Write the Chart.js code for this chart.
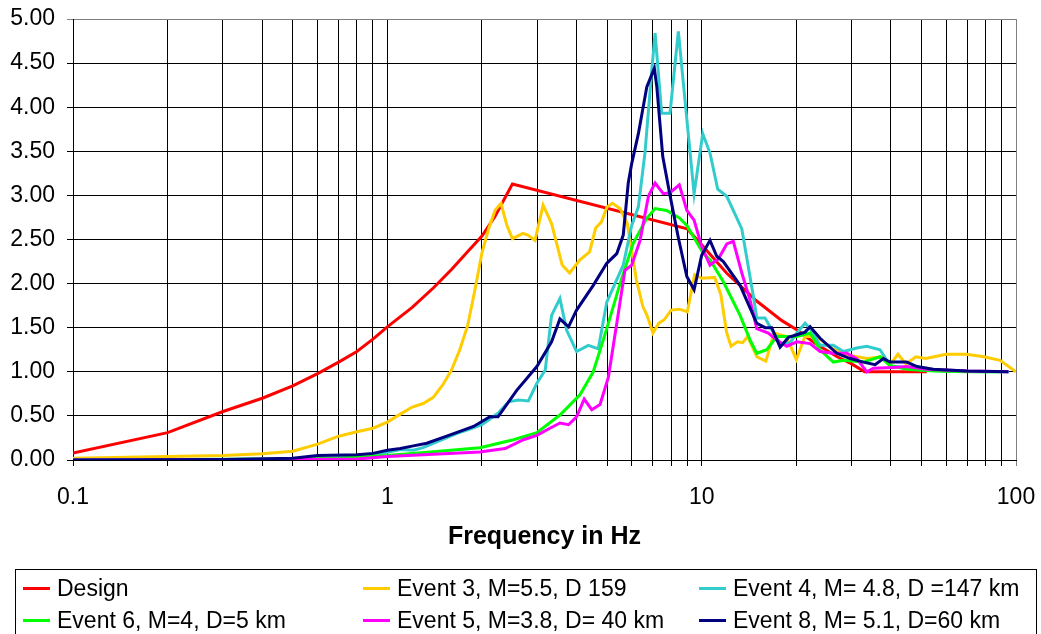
<!DOCTYPE html>
<html>
<head>
<meta charset="utf-8">
<script src="https://cdn.jsdelivr.net/npm/chart.js@4.4.1/dist/chart.umd.min.js"></script>
<style>
  body { margin: 0; background: #fff; font-family: "Liberation Sans", Arial, sans-serif; }
  #wrap { position: relative; width: 1041px; height: 634px; overflow: hidden; }
  #legend { position: absolute; left: 15px; top: 569px; width: 1022px; height: 90px;
            border: 1px solid #000; box-sizing: border-box; }
  .item { position: absolute; font-size: 23px; line-height: 26px; white-space: nowrap; color: #000; }
  .item i { display: inline-block; width: 27px; height: 3px; vertical-align: middle; margin-right: 7px; position: relative; top: -1px; }
</style>
</head>
<body>
<div id="wrap">
  <canvas id="chart" width="1041" height="634"></canvas>
  <div id="legend"></div>
</div>
<script>
// x axis: frequency in Hz (log), y axis: spectral amplification
const xTickLabels = ["0.1", "1", "10", "100"];

const seriesNames = [
  "Design",
  "Event 3, M=5.5, D 159",
  "Event 4, M= 4.8, D =147 km",
  "Event 6, M=4, D=5 km",
  "Event 5, M=3.8, D= 40 km",
  "Event 8, M= 5.1, D=60 km"
];
const seriesColors = ["#FF0000", "#FFCC00", "#33CCCC", "#00FF00", "#FF00FF", "#000080"];

const designFreq = [0.1, 0.2, 0.3, 0.4, 0.5, 0.6, 0.7, 0.8, 0.9, 1, 1.2, 1.4, 1.6, 1.8, 2, 2.2, 2.5,
  9, 10, 12, 15, 18, 20, 23, 27, 30, 33, 40, 52];
const designAmp = [0.08, 0.31, 0.55, 0.70, 0.84, 0.98, 1.11, 1.23, 1.37, 1.51, 1.73, 1.95, 2.16, 2.36, 2.54, 2.76, 3.13,
  2.62, 2.44, 2.12, 1.80, 1.58, 1.48, 1.32, 1.17, 1.09, 1.0, 1.0, 1.0];

const ev3Freq = [0.1, 0.2, 0.3, 0.4, 0.5, 0.6, 0.7, 0.8, 0.9, 1.0,
  1.1, 1.2, 1.3, 1.4, 1.5, 1.6, 1.7, 1.8, 1.9, 2.0, 2.1, 2.2, 2.3, 2.4, 2.5,
  2.7, 2.8, 2.95, 3.13, 3.33, 3.6, 3.8, 4.1, 4.4, 4.6, 4.8, 5.0, 5.2, 5.5, 5.8,
  6.2, 6.5, 6.7, 7.0, 7.3, 7.6, 8.0, 8.5, 9.0, 9.5, 10, 11, 11.5, 12, 12.4, 13, 13.5, 14, 15, 16,
  17, 17.7, 18.6, 20, 21.3, 23.2, 25.6, 28.2, 33.5, 37.7, 39.6, 42.1, 44.7, 48, 51.6, 60, 69.5, 79, 89, 100];
const ev3Amp = [0.02, 0.04, 0.05, 0.07, 0.10, 0.18, 0.27, 0.32, 0.36, 0.43,
  0.52, 0.60, 0.64, 0.71, 0.85, 1.02, 1.25, 1.52, 1.93, 2.35, 2.62, 2.83, 2.91, 2.66, 2.51,
  2.57, 2.55, 2.49, 2.89, 2.68, 2.21, 2.12, 2.27, 2.36, 2.63, 2.70, 2.87, 2.91, 2.85, 2.68,
  2.04, 1.74, 1.64, 1.44, 1.55, 1.59, 1.70, 1.71, 1.68, 2.10, 2.06, 2.07, 1.88, 1.45, 1.29, 1.34, 1.33, 1.40, 1.17, 1.12,
  1.44, 1.42, 1.40, 1.14, 1.40, 1.40, 1.28, 1.20, 1.15, 1.17, 1.07, 1.20, 1.09, 1.17, 1.15, 1.20, 1.20, 1.17, 1.13, 1.00];

const ev4Freq = [0.1, 0.3, 0.5, 0.6, 0.8, 0.95, 1.1, 1.21, 1.3, 1.45,
  1.66, 1.86, 2.0, 2.25, 2.43, 2.61, 2.81, 2.99, 3.18, 3.33,
  3.54, 3.72, 4.0, 4.36, 4.69, 4.99, 5.30, 5.63, 5.99, 6.29,
  6.60, 6.94, 7.11, 7.46, 7.93, 8.43, 8.85, 9.46, 10.08, 10.63,
  11.25, 12.02, 13.42, 14.61, 14.97, 15.91, 16.50, 17.76, 19.12, 20.08,
  21.33, 22.13, 23.81, 26.24, 28.25, 31.16, 33.53, 36.95, 39.77, 43.8, 50, 60, 80, 95];
const ev4Amp = [0, 0.005, 0.01, 0.02, 0.03, 0.07, 0.12, 0.11, 0.14, 0.21,
  0.30, 0.36, 0.40, 0.53, 0.66, 0.68, 0.67, 0.87, 1.02, 1.64,
  1.83, 1.47, 1.23, 1.30, 1.26, 1.79, 2.0, 2.21, 2.66, 2.87,
  3.48, 4.42, 4.84, 3.93, 3.93, 4.86, 4.08, 3.02, 3.70, 3.48,
  3.07, 2.99, 2.62, 1.85, 1.61, 1.61, 1.51, 1.32, 1.33, 1.44,
  1.55, 1.49, 1.30, 1.30, 1.23, 1.27, 1.29, 1.25, 1.07, 1.05, 1.02, 1.01, 1.0, 1.0];

const ev6Freq = [0.1, 0.5, 0.7, 1.0, 1.37, 1.97, 2.52, 2.99, 3.54, 4.10,
  4.52, 4.99, 5.50, 6.06, 6.69, 7.11, 7.74, 8.53, 8.97, 10.13,
  10.63, 11.72, 13.25, 14.26, 14.97, 16.11, 17.33, 18.2, 20.08, 22.13,
  23.81, 26.24, 28.25, 32.70, 36.95, 39.77, 45, 55, 70, 90];
const ev6Amp = [0, 0.01, 0.02, 0.05, 0.09, 0.14, 0.23, 0.31, 0.51, 0.74,
  1.0, 1.49, 2.0, 2.46, 2.74, 2.85, 2.83, 2.74, 2.66, 2.34,
  2.27, 2.02, 1.64, 1.36, 1.21, 1.25, 1.40, 1.40, 1.40, 1.44,
  1.25, 1.11, 1.13, 1.11, 1.17, 1.07, 1.03, 1.01, 1.0, 1.0];

const ev5Freq = [0.1, 0.5, 0.8, 1.0, 1.97, 2.37, 2.71, 2.99, 3.29, 3.54,
  3.77, 4.0, 4.23, 4.47, 4.75, 5.05, 5.37, 5.70, 5.99, 6.37,
  6.77, 7.11, 7.55, 7.93, 8.49, 8.97, 9.46, 10.0, 10.63, 11.30,
  12.02, 12.61, 13.42, 14.26, 14.97, 16.30, 17.33, 18.66, 20.08, 22.13,
  23.81, 26.24, 28.96, 31.16, 33.53, 35.19, 40.7, 44.9, 52.0, 69.7, 94.6];
const ev5Amp = [0, 0.005, 0.01, 0.04, 0.09, 0.13, 0.23, 0.28, 0.36, 0.42,
  0.40, 0.49, 0.69, 0.57, 0.63, 0.94, 1.55, 2.15, 2.21, 2.49,
  2.99, 3.14, 3.02, 3.03, 3.12, 2.83, 2.72, 2.42, 2.21, 2.28,
  2.45, 2.48, 2.12, 1.81, 1.49, 1.44, 1.36, 1.29, 1.34, 1.32,
  1.23, 1.21, 1.21, 1.15, 1.0, 1.04, 1.05, 1.06, 1.03, 1.01, 1.0];

const ev8Freq = [0.1, 0.3, 0.5, 0.6, 0.8, 0.9, 1.0, 1.1, 1.21, 1.335,
  1.545, 1.88, 2.12, 2.25, 2.58, 2.99, 3.33, 3.54, 3.77, 4.0,
  4.52, 4.99, 5.37, 5.63, 5.84, 5.99, 6.29, 6.69, 7.07, 7.20,
  7.52, 7.93, 8.43, 8.97, 9.46, 10.0, 10.63, 11.17, 11.72, 13.25,
  14.97, 15.91, 16.71, 17.76, 18.88, 20.08, 21.33, 22.13, 23.81, 26.91,
  29.67, 32.70, 35.63, 37.86, 39.77, 44.9, 48.4, 54.6, 69.7, 94.6];
const ev8Amp = [0, 0.005, 0.02, 0.05, 0.06, 0.075, 0.11, 0.13, 0.16, 0.19,
  0.27, 0.38, 0.49, 0.49, 0.79, 1.06, 1.34, 1.60, 1.51, 1.70,
  1.98, 2.23, 2.34, 2.55, 3.14, 3.36, 3.70, 4.23, 4.44, 4.23,
  3.44, 3.00, 2.52, 2.08, 1.93, 2.32, 2.49, 2.31, 2.25, 1.98,
  1.55, 1.50, 1.50, 1.28, 1.39, 1.42, 1.45, 1.51, 1.38, 1.21,
  1.15, 1.11, 1.08, 1.15, 1.11, 1.11, 1.06, 1.03, 1.01, 1.0];

const seriesFreq = [designFreq, ev3Freq, ev4Freq, ev6Freq, ev5Freq, ev8Freq];
const seriesAmp = [designAmp, ev3Amp, ev4Amp, ev6Amp, ev5Amp, ev8Amp];

// gridline positions 1..9 per decade
const gridFreqs = [];
[0.1, 1, 10].forEach(d => { for (let m = 1; m < 10; m++) gridFreqs.push(+(d * m).toPrecision(3)); });
gridFreqs.push(100);

const font = { family: "'Liberation Sans', Arial, sans-serif", size: 23 };

const datasets = seriesNames.map((name, i) => ({
  label: name,
  data: seriesFreq[i].map((f, k) => ({ x: f, y: seriesAmp[i][k] })),
  borderColor: seriesColors[i],
  backgroundColor: seriesColors[i],
  borderWidth: 3,
  pointRadius: 0,
  tension: 0,
  fill: false,
  order: seriesNames.length - i
}));

new Chart(document.getElementById("chart"), {
  type: "line",
  data: { datasets },
  options: {
    responsive: false,
    animation: false,
    devicePixelRatio: 1,
    layout: { padding: { left: 0, right: 25, top: 19, bottom: 74 } },
    plugins: { legend: { display: false }, tooltip: { enabled: false } },
    scales: {
      x: {
        type: "logarithmic",
        min: 0.1,
        max: 100,
        afterBuildTicks: s => { s.ticks = gridFreqs.map(v => ({ value: v })); },
        afterFit: s => { s.height = 100; s.paddingLeft = 0; s.paddingRight = 0; },
        grid: {
          color: c => (c.tick && c.tick.value === 100 ? "#808080" : "#000"),
          lineWidth: 1,
          tickLength: 6
        },
        border: { display: true, color: "#000", width: 1 },
        ticks: {
          autoSkip: false,
          maxRotation: 0,
          padding: 18,
          color: "#000",
          font,
          callback: v => {
            const idx = [0.1, 1, 10, 100].findIndex(t => Math.abs(t - v) < 1e-9);
            return idx >= 0 ? xTickLabels[idx] : "";
          }
        },
        title: {
          display: true,
          text: "Frequency in Hz",
          color: "#000",
          font: { family: font.family, size: 25, weight: "bold" },
          padding: { top: 0, bottom: 8 }
        }
      },
      y: {
        min: 0,
        max: 5,
        afterFit: s => { s.width = 73; s.paddingTop = 0; s.paddingBottom = 0; },
        grid: {
          color: c => (c.tick && c.tick.value === 5 ? "#808080" : "#000"),
          lineWidth: 1,
          tickLength: 6
        },
        border: { display: true, color: "#000", width: 1 },
        ticks: {
          stepSize: 0.5,
          padding: 12,
          color: "#000",
          font,
          callback: v => v.toFixed(2)
        }
      }
    }
  }
});

// legend box, 3 columns x 2 rows
const legend = document.getElementById("legend");
const colLeft = [7, 347, 683];
const rowTop = [5, 37];
seriesNames.forEach((name, i) => {
  const el = document.createElement("div");
  el.className = "item";
  el.style.left = colLeft[i % 3] + "px";
  el.style.top = rowTop[Math.floor(i / 3)] + "px";
  el.innerHTML = '<i style="background:' + seriesColors[i] + '"></i>' + name;
  legend.appendChild(el);
});
</script>
</body>
</html>
